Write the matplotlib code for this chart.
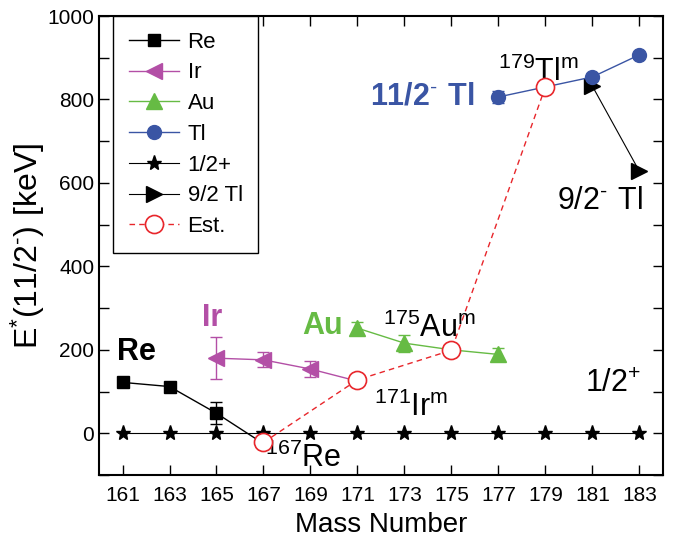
import matplotlib
matplotlib.use("Agg")
from matplotlib import pyplot
from matplotlib.ticker import MultipleLocator, FixedLocator
import numpy as np

pyplot.rcParams["font.family"] = ["Liberation Sans", "DejaVu Sans"]
pyplot.rcParams["mathtext.fontset"] = "custom"
pyplot.rcParams["mathtext.rm"] = "Liberation Sans"
pyplot.rcParams["mathtext.bf"] = "Liberation Sans:bold"

my_color = {"black": "#000000",
            "magenta": "#B34FA6",
            "green": "#66BB44",
            "blue": "#3A55A4",
            "red": "#E8262B"}

# data
re_mass = [161, 163, 165, 167]
re_e = [122, 112, 48, -25]
re_err = [0, 0, 26, 0]

ir_mass = [165, 167, 169, 171]
ir_e = [180, 176, 154, 125]
ir_err = [50, 18, 20, 0]

au_mass = [171, 173, 175, 177]
au_e = [252, 216, 200, 189]
au_err = [15, 20, 0, 15]

tl_mass = [177, 179, 181, 183]
tl_e = [806, 830, 854, 907]
tl_err = [15, 0, 0, 0]

half_mass = [161, 163, 165, 167, 169, 171, 173, 175, 177, 179, 181, 183]
half_e = [0] * 12

nine_mass = [181, 183]
nine_e = [832, 628]

est_mass = [167, 171, 175, 179]
est_e = [-22, 128, 199, 830]

mass_ticks = [161, 163, 165, 167, 169, 171, 173, 175, 177, 179, 181, 183]

fig = pyplot.figure(figsize=(6.75, 5.43), dpi=100)
ax = fig.add_axes([0.1467, 0.1252, 0.8353, 0.8453])

h_re = ax.errorbar(re_mass, re_e, yerr=re_err, color=my_color["black"], marker="s",
                   markersize=9, linewidth=1.0, capsize=4, elinewidth=1.0,
                   markevery=[0, 1, 2], zorder=3)
h_ir = ax.errorbar(ir_mass, ir_e, yerr=ir_err, color=my_color["magenta"], marker="<",
                   markersize=11, linewidth=1.0, capsize=4, elinewidth=1.0,
                   markevery=[0, 1, 2], zorder=3)
h_au = ax.errorbar(au_mass, au_e, yerr=au_err, color=my_color["green"], marker="^",
                   markersize=11, linewidth=1.0, capsize=4, elinewidth=1.0,
                   markevery=[0, 1, 3], zorder=3)
h_tl = ax.errorbar(tl_mass, tl_e, yerr=tl_err, color=my_color["blue"], marker="o",
                   markersize=10, linewidth=1.0, capsize=4, elinewidth=1.0,
                   markevery=[0, 2, 3], zorder=3)
h_half, = ax.plot(half_mass, half_e, color=my_color["black"], marker="*",
                  markersize=11, linewidth=0.8, zorder=3)
h_nine, = ax.plot(nine_mass, nine_e, color=my_color["black"], marker=">",
                  markersize=12, linewidth=0.8, zorder=3)
h_est, = ax.plot(est_mass, est_e, color=my_color["red"], marker="o", markersize=13,
                 markerfacecolor="white", markeredgewidth=1.2, linestyle=(0, (4, 3)),
                 linewidth=1.0, zorder=4)

ax.set_xlim(160, 184)
ax.set_ylim(-100, 1000)
ax.xaxis.set_major_locator(FixedLocator(mass_ticks))
ax.yaxis.set_major_locator(MultipleLocator(200))
ax.yaxis.set_minor_locator(MultipleLocator(100))
ax.tick_params(axis="both", which="both", direction="in", length=7,
               width=1.0, top=True, right=True, labelsize=15)
ax.tick_params(axis="x", pad=8)
for s in ax.spines.values():
    s.set_linewidth(1.5)

ax.set_xlabel("Mass Number", fontsize=20, labelpad=5)
ax.set_ylabel(r"$\mathregular{E^{*}(11/2^{\text{-}})\ [keV]}$", fontsize=23, labelpad=0)

# annotations
ax.text(160.75, 196, "Re", fontsize=22, fontweight="bold", va="center")
ax.text(164.4, 277, "Ir", fontsize=22, fontweight="bold", va="center",
        color=my_color["magenta"])
ax.text(168.65, 257, "Au", fontsize=22, fontweight="bold", va="center",
        color=my_color["green"])
ax.text(171.55, 806, r"$\mathbf{11/2^{\text{-}}\ Tl}$", fontsize=22, va="center",
        color=my_color["blue"])
ax.text(177.0, 866, r"$\mathregular{^{179}Tl^{m}}$", fontsize=22, va="center")
ax.text(172.1, 252, r"$\mathregular{^{175}Au^{m}}$", fontsize=22, va="center")
ax.text(171.7, 62, r"$\mathregular{^{171}Ir^{m}}$", fontsize=22, va="center")
ax.text(167.05, -60, r"$\mathregular{^{167}Re}$", fontsize=22, va="center")
ax.text(180.7, 118, r"$\mathregular{1/2^{+}}$", fontsize=22, va="center")
ax.text(179.5, 556, r"$\mathregular{9/2^{\text{-}}\ Tl}$", fontsize=22, va="center")

handles = [h_re.lines[0], h_ir.lines[0], h_au.lines[0], h_tl.lines[0],
           h_half, h_nine, h_est]
labels = ["Re", "Ir", "Au", "Tl", "1/2+", "9/2 Tl", "Est."]
leg = ax.legend(handles, labels, loc="upper left", bbox_to_anchor=(0.025, 1.0),
                borderaxespad=0, fontsize=16, fancybox=False, edgecolor="black",
                framealpha=1, handlelength=2.25, labelspacing=0.44, borderpad=0.7,
                handletextpad=0.4, markerscale=1.0)
leg.get_frame().set_linewidth(1.0)

pyplot.savefig("out.png", dpi=100)
